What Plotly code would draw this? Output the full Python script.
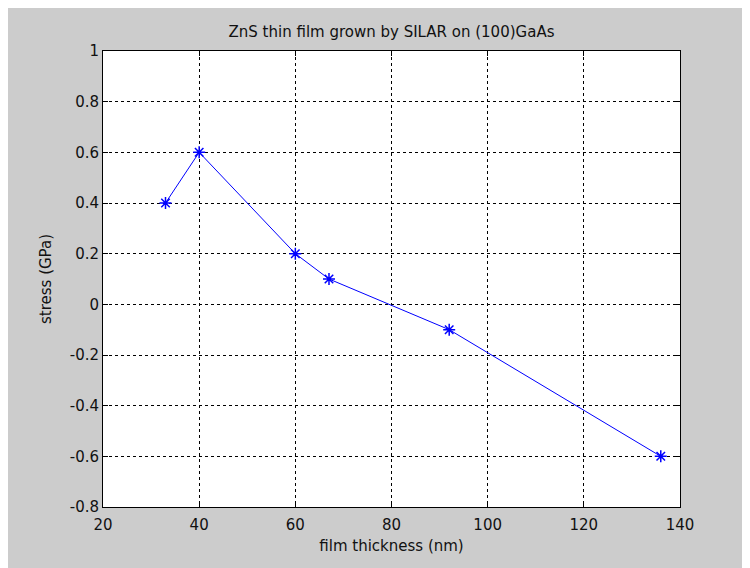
import plotly.graph_objects as go

thickness_nm = [33, 40, 60, 67, 92, 136]
stress_gpa = [0.4, 0.6, 0.2, 0.1, -0.1, -0.6]
x_ticks = [20, 40, 60, 80, 100, 120, 140]
y_ticks = [-0.8, -0.6, -0.4, -0.2, 0, 0.2, 0.4, 0.6, 0.8, 1]
y_labels = ["-0.8", "-0.6", "-0.4", "-0.2", "0", "0.2", "0.4", "0.6", "0.8", "1"]

# figure is drawn at an 8px page offset
W, H = 750, 568
L, R, T, B = 95, 78, 43, 69
pw, ph = W - L - R, H - T - B

fig = go.Figure()
fig.add_trace(go.Scatter(
    x=thickness_nm, y=stress_gpa, mode="lines+markers",
    line=dict(color="#0000ff", width=1),
    marker=dict(symbol="asterisk-open", size=10, color="#0000ff",
                line=dict(color="#0000ff", width=1.5)),
    showlegend=False,
))

font = dict(family="DejaVu Sans, sans-serif", size=15, color="#111111")
axis_common = dict(
    showline=True, linecolor="#000000", linewidth=1, mirror="ticks",
    ticks="inside", ticklen=5, tickcolor="#000000", tickwidth=1,
    showgrid=True, gridcolor="#000000", gridwidth=1, griddash="3px,3px",
    zeroline=False, tickfont=font,
)
fig.update_xaxes(range=[20, 140], tickvals=x_ticks, ticktext=[str(v) for v in x_ticks],
                 ticklabelstandoff=4,
                 title=dict(text="film thickness (nm)", font=font, standoff=7), **axis_common)
fig.update_yaxes(range=[-0.8, 1], tickvals=y_ticks, ticktext=y_labels,
                 ticklabelstandoff=0,
                 title=dict(text="stress (GPa)", font=font, standoff=14), **axis_common)

fig.update_layout(
    width=W, height=H,
    margin=dict(l=L, r=R, t=T, b=B),
    paper_bgcolor="#cccccc", plot_bgcolor="#ffffff",
    title=dict(text="ZnS thin film grown by SILAR on (100)GaAs", font=font,
               x=(L + pw / 2) / W, xanchor="center", y=1 - 24 / H, yanchor="middle"),
    font=font,
)
fig.write_html("out.html")
